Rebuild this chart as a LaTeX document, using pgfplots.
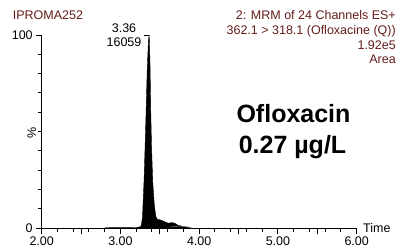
\documentclass[border=0pt]{standalone}
\usepackage{fontspec}
\setmainfont{Liberation Sans}
\usepackage{pgfplots}
\pgfplotsset{compat=1.18}
\definecolor{hdr}{RGB}{100,28,28}
\begin{document}
\begin{tikzpicture}
\begin{axis}[
  at={(41.7bp,19.7bp)}, anchor=south west,
  scale only axis, width=315bp, height=193.3bp,
  xmin=2, xmax=6, ymin=0, ymax=100,
  axis lines*=left,
  axis line style={line width=0.8pt},
  xtick={2,3,4,5,6},
  extra x ticks={2.5,3.5,4.5,5.5},
  extra x tick labels={},
  minor x tick num=4,
  ytick={0,100},
  minor ytick={10,20,30,40,50,60,70,80,90},
  xtick pos=bottom, ytick pos=left,
  tick align=outside,
  major tick length=6pt, minor tick length=3.5pt,
  xtick style={draw=black, line width=1pt},
  ytick style={draw=black, line width=1pt},
  /pgf/number format/assume math mode=true,
  xticklabel style={/pgf/number format/fixed, /pgf/number format/fixed zerofill, /pgf/number format/precision=2, yshift=1.5bp},
  yticklabel style={xshift=0.5bp},
  tick label style={font=\fontsize{12.5bp}{14bp}\selectfont},
  clip=false,
]
\addplot[fill=black, draw=black, line width=0.4pt] coordinates {
(2.00,0) (2.80,0) (2.81,0.3) (3.00,0.35) (3.20,0.4) (3.25,0.8) (3.265,1.5)
(3.28,6) (3.30,25) (3.32,52) (3.34,82) (3.355,97) (3.365,100)
(3.375,86) (3.385,60) (3.395,42) (3.41,24) (3.43,12) (3.45,6) (3.47,4.6)
(3.50,4.4) (3.53,4.0) (3.57,3.2) (3.61,2.6) (3.65,3.0) (3.69,2.6) (3.73,1.6)
(3.78,1.1) (3.84,0.6) (3.90,0.1) (3.92,0) (6.00,0)
};
\addplot[draw=gray, line width=0.5pt] coordinates {(3.62,0.6) (3.75,1.2) (3.88,0.6) (3.90,0)};
\draw[line width=0.8pt] (axis cs:3.295,100) -- (axis cs:3.365,100);
\end{axis}
\node[anchor=base west, text=hdr, font=\fontsize{12.5bp}{14bp}\selectfont, inner sep=0pt] at (12.7bp,228bp) {IPROMA252};
\node[anchor=base east, text=hdr, font=\fontsize{12.5bp}{14bp}\selectfont, inner sep=0pt] at (396bp,228.7bp) {2: MRM of 24 Channels ES+};
\node[anchor=base east, text=hdr, font=\fontsize{12.5bp}{14bp}\selectfont, inner sep=0pt] at (396bp,213.7bp) {362.1 > 318.1 (Ofloxacine (Q))};
\node[anchor=base east, text=hdr, font=\fontsize{12.5bp}{14bp}\selectfont, inner sep=0pt] at (396bp,198.7bp) {1.92e5};
\node[anchor=base east, text=hdr, font=\fontsize{12.5bp}{14bp}\selectfont, inner sep=0pt] at (396bp,184.7bp) {Area};
\node[anchor=base, font=\fontsize{12.5bp}{14bp}\selectfont, inner sep=0pt] at (124bp,215bp) {3.36};
\node[anchor=base, font=\fontsize{12.5bp}{14bp}\selectfont, inner sep=0pt] at (124bp,201.3bp) {16059};
\node[rotate=90, font=\fontsize{12.5bp}{14bp}\selectfont, inner sep=0pt] at (31.7bp,115.3bp) {\%};
\node[anchor=base west, font=\fontsize{12.5bp}{14bp}\selectfont, inner sep=0pt] at (363bp,15.3bp) {Time};
\node[anchor=base, font=\bfseries\fontsize{25bp}{28bp}\selectfont, inner sep=0pt] at (293.5bp,125bp) {Ofloxacin};
\node[anchor=base, font=\bfseries\fontsize{25bp}{28bp}\selectfont, inner sep=0pt] at (292.5bp,95bp) {0.27 µg/L};
\path (0,0) rectangle (403bp,248bp);
\end{tikzpicture}
\end{document}
